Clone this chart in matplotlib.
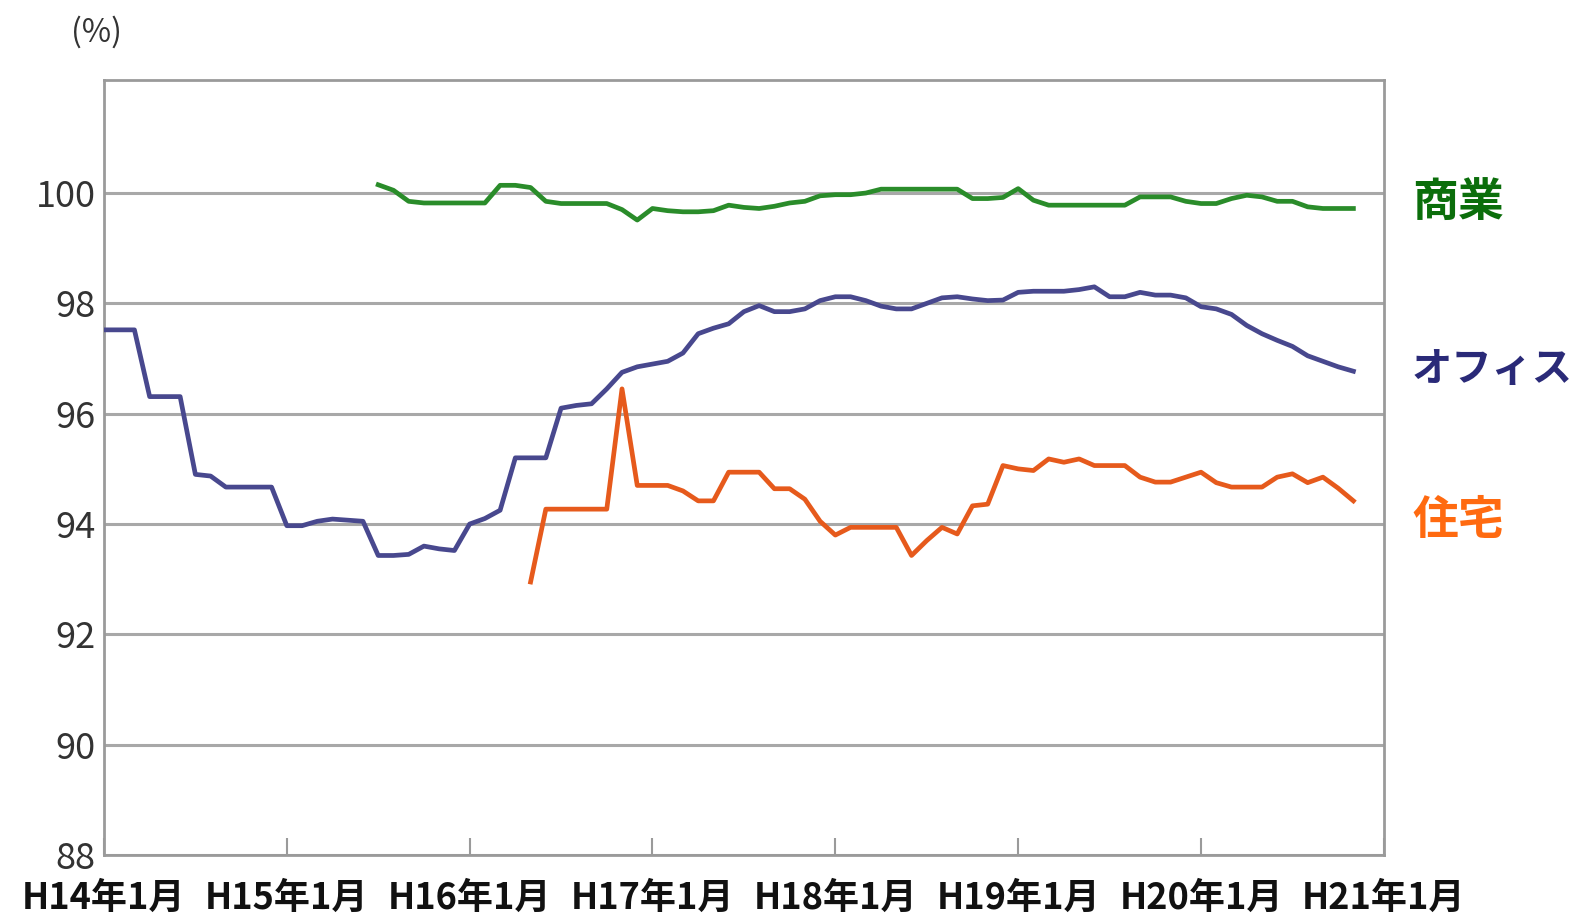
import matplotlib
matplotlib.use("Agg")
import matplotlib.pyplot as plt

plt.rcParams['font.family'] = ['Noto Sans CJK JP', 'DejaVu Sans']

# monthly occupancy rates (%), month 0 = H14年1月
office_start = 0
office = [97.52, 97.52, 97.52, 96.31, 96.31, 96.31, 94.9, 94.87, 94.67, 94.67,
          94.67, 94.67, 93.97, 93.97, 94.05, 94.09, 94.07, 94.05, 93.43, 93.43,
          93.45, 93.6, 93.55, 93.52, 94.0, 94.1, 94.25, 95.2, 95.2, 95.2,
          96.1, 96.15, 96.18, 96.45, 96.75, 96.85, 96.9, 96.95, 97.1, 97.45,
          97.55, 97.63, 97.85, 97.96, 97.85, 97.85, 97.9, 98.05, 98.12, 98.12,
          98.05, 97.95, 97.9, 97.9, 98.0, 98.1, 98.12, 98.08, 98.05, 98.06,
          98.2, 98.22, 98.22, 98.22, 98.25, 98.3, 98.12, 98.12, 98.2, 98.15,
          98.15, 98.1, 97.94, 97.9, 97.8, 97.6, 97.45, 97.33, 97.22, 97.05,
          96.95, 96.85, 96.77]

housing_start = 28
housing = [92.95, 94.27, 94.27, 94.27, 94.27, 94.27, 96.45, 94.7, 94.7, 94.7,
           94.6, 94.42, 94.42, 94.94, 94.94, 94.94, 94.64, 94.64, 94.45, 94.05,
           93.8, 93.94, 93.94, 93.94, 93.94, 93.43, 93.7, 93.94, 93.82, 94.33,
           94.36, 95.06, 95.0, 94.97, 95.18, 95.12, 95.18, 95.06, 95.06, 95.06,
           94.85, 94.76, 94.76, 94.85, 94.94, 94.75, 94.67, 94.67, 94.67, 94.85,
           94.91, 94.75, 94.85, 94.65, 94.42]

commerce_start = 18
commerce = [100.15, 100.05, 99.85, 99.82, 99.82, 99.82, 99.82, 99.82, 100.14, 100.14,
            100.1, 99.85, 99.81, 99.81, 99.81, 99.81, 99.7, 99.51, 99.72, 99.68,
            99.66, 99.66, 99.68, 99.78, 99.74, 99.72, 99.76, 99.82, 99.85, 99.95,
            99.97, 99.97, 100.0, 100.07, 100.07, 100.07, 100.07, 100.07, 100.07, 99.9,
            99.9, 99.92, 100.08, 99.87, 99.78, 99.78, 99.78, 99.78, 99.78, 99.78,
            99.93, 99.93, 99.93, 99.85, 99.81, 99.81, 99.9, 99.96, 99.93, 99.85,
            99.85, 99.75, 99.72, 99.72, 99.72]

tick_labels = ['H14年1月', 'H15年1月', 'H16年1月', 'H17年1月',
               'H18年1月', 'H19年1月', 'H20年1月', 'H21年1月']
y_ticks = [88, 90, 92, 94, 96, 98, 100]

series = [
    ('商業', commerce_start, commerce, '#2a8c2a', '#0b6e0b', 99.8, 33),
    ('オフィス', office_start, office, '#48488e', '#2a2a78', 96.8, 29),
    ('住宅', housing_start, housing, '#e65a1c', '#ff6a10', 94.05, 33),
]

fig = plt.figure(figsize=(15.87, 9.19), dpi=100)
ax = fig.add_axes([0.0655, 0.0696, 0.8065, 0.8434])

for name, start, vals, color, lab_color, lab_y, fs in series:
    xs = list(range(start, start + len(vals)))
    ax.plot(xs, vals, color=color, lw=3.4, solid_joinstyle='round', zorder=3)
    ax.text(1.022, lab_y, name, transform=ax.get_yaxis_transform(),
            color=lab_color, fontsize=fs, fontweight='bold', va='center', ha='left')

ax.set_xlim(0, 84)
ax.set_ylim(88, 102.05)
ax.set_xticks(range(0, 85, 12))
ax.set_xticklabels(tick_labels)
ax.set_yticks(y_ticks)
ax.set_yticklabels([str(v) for v in y_ticks])
ax.yaxis.grid(True, color='#a8a8a8', lw=2.2)
ax.set_axisbelow(True)

for s in ax.spines.values():
    s.set_color('#9a9a9a')
    s.set_linewidth(2)

ax.tick_params(axis='x', direction='in', length=12, width=1.5, color='#9a9a9a',
               labelsize=26, pad=18, labelcolor='#111111')
ax.tick_params(axis='y', direction='in', length=0, labelsize=26, pad=6,
               labelcolor='#333333')
for lbl in ax.get_xticklabels():
    lbl.set_fontweight('bold')

fig.text(0.061, 0.965, '(%)', fontsize=23, color='#333333', ha='center', va='center')

fig.savefig('out.png', dpi=100, facecolor='white')
